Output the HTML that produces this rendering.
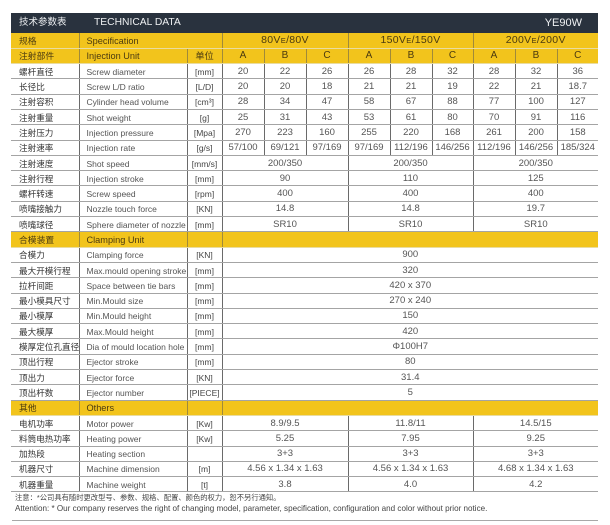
<!DOCTYPE html>
<html>
<head>
<meta charset="utf-8">
<style>
  html,body{margin:0;padding:0;background:#fff;}
  body{width:610px;height:525px;position:relative;overflow:hidden;font-family:"Liberation Sans","Noto Sans CJK SC",sans-serif;}
  .hdr{position:absolute;left:11px;top:13px;width:587px;height:20px;background:#29323e;color:#eef0f2;}
  .hdr .cn{position:absolute;left:8px;top:3px;font-size:9.5px;line-height:14px;font-family:"Liberation Sans","Noto Sans CJK SC",sans-serif;}
  .hdr .en{position:absolute;left:83px;top:3px;font-size:10.3px;line-height:14px;}
  .hdr .md{position:absolute;right:16px;top:3px;font-size:11px;line-height:14px;}
  table{position:absolute;left:11px;top:33px;width:587px;border-collapse:collapse;table-layout:fixed;}
  tr{height:15.31px;}
  td{padding:1px 0 0 0;border-bottom:1px solid #a4a4a4;border-left:1px solid #6a6a6a;text-align:center;vertical-align:middle;white-space:nowrap;overflow:hidden;font-size:9.5px;color:#555;line-height:12px;}
  td.c1{border-left:none;text-align:left;padding-left:8px;font-size:8.6px;color:#333;font-family:"Liberation Sans","Noto Sans CJK SC",sans-serif;}
  td.c2{text-align:left;padding-left:7px;font-size:8.5px;color:#555;}
  td.u{font-size:8.5px;color:#444;}
  tr.y td{background:#f2c41c;color:#4a3a10;font-size:9.2px;border-bottom:1px solid #e9dca0;border-left-color:#a08a3a;}
  tr.y td.c1{font-size:8.8px;color:#4a3a10;}
  tr.y td.g{font-size:10.5px;letter-spacing:0.3px;}
  tr.y td.abc{font-size:10px;}
  tr.y td small{font-size:0.72em;}
  .n1{position:absolute;left:15px;top:492px;font-size:7.3px;line-height:11px;color:#444;font-family:"Liberation Sans","Noto Sans CJK SC",sans-serif;}
  .n2{position:absolute;left:15px;top:503px;font-size:8.1px;line-height:11px;color:#444;}
  .bl{position:absolute;left:12px;top:520px;width:586px;height:1px;background:#a8a8a8;}
</style>
</head>
<body>
<div class="hdr"><span class="cn">技术参数表</span><span class="en">TECHNICAL DATA</span><span class="md">YE90W</span></div>
<table>
<colgroup>
<col style="width:68px"><col style="width:108px"><col style="width:35px">
<col style="width:42px"><col style="width:42px"><col style="width:42px">
<col style="width:42px"><col style="width:42px"><col style="width:41px">
<col style="width:42px"><col style="width:42px"><col style="width:41px">
</colgroup>
<tr class="y"><td class="c1">规格</td><td class="c2" colspan="2">Specification</td><td class="g" colspan="3">80V<small>E</small>/80V</td><td class="g" colspan="3">150V<small>E</small>/150V</td><td class="g" colspan="3">200V<small>E</small>/200V</td></tr>
<tr class="y"><td class="c1">注射部件</td><td class="c2">Injection Unit</td><td class="u" style="font-size:9.2px">单位</td><td class="abc">A</td><td class="abc">B</td><td class="abc">C</td><td class="abc">A</td><td class="abc">B</td><td class="abc">C</td><td class="abc">A</td><td class="abc">B</td><td class="abc">C</td></tr>
<tr><td class="c1">螺杆直径</td><td class="c2">Screw diameter</td><td class="u">[mm]</td><td>20</td><td>22</td><td>26</td><td>26</td><td>28</td><td>32</td><td>28</td><td>32</td><td>36</td></tr>
<tr><td class="c1">长径比</td><td class="c2">Screw L/D ratio</td><td class="u">[L/D]</td><td>20</td><td>20</td><td>18</td><td>21</td><td>21</td><td>19</td><td>22</td><td>21</td><td>18.7</td></tr>
<tr><td class="c1">注射容积</td><td class="c2">Cylinder head volume</td><td class="u">[cm³]</td><td>28</td><td>34</td><td>47</td><td>58</td><td>67</td><td>88</td><td>77</td><td>100</td><td>127</td></tr>
<tr><td class="c1">注射重量</td><td class="c2">Shot weight</td><td class="u">[g]</td><td>25</td><td>31</td><td>43</td><td>53</td><td>61</td><td>80</td><td>70</td><td>91</td><td>116</td></tr>
<tr><td class="c1">注射压力</td><td class="c2">Injection pressure</td><td class="u">[Mpa]</td><td>270</td><td>223</td><td>160</td><td>255</td><td>220</td><td>168</td><td>261</td><td>200</td><td>158</td></tr>
<tr><td class="c1">注射速率</td><td class="c2">Injection rate</td><td class="u">[g/s]</td><td>57/100</td><td>69/121</td><td>97/169</td><td>97/169</td><td>112/196</td><td>146/256</td><td>112/196</td><td>146/256</td><td>185/324</td></tr>
<tr><td class="c1">注射速度</td><td class="c2">Shot speed</td><td class="u">[mm/s]</td><td colspan="3">200/350</td><td colspan="3">200/350</td><td colspan="3">200/350</td></tr>
<tr><td class="c1">注射行程</td><td class="c2">Injection stroke</td><td class="u">[mm]</td><td colspan="3">90</td><td colspan="3">110</td><td colspan="3">125</td></tr>
<tr><td class="c1">螺杆转速</td><td class="c2">Screw speed</td><td class="u">[rpm]</td><td colspan="3">400</td><td colspan="3">400</td><td colspan="3">400</td></tr>
<tr><td class="c1">喷嘴接触力</td><td class="c2">Nozzle touch force</td><td class="u">[KN]</td><td colspan="3">14.8</td><td colspan="3">14.8</td><td colspan="3">19.7</td></tr>
<tr><td class="c1">喷嘴球径</td><td class="c2">Sphere diameter of nozzle</td><td class="u">[mm]</td><td colspan="3">SR10</td><td colspan="3">SR10</td><td colspan="3">SR10</td></tr>
<tr class="y"><td class="c1">合模装置</td><td class="c2">Clamping Unit</td><td class="u"></td><td colspan="9" style="border-left:1px solid #a08a3a"></td></tr>
<tr><td class="c1">合模力</td><td class="c2">Clamping force</td><td class="u">[KN]</td><td colspan="9">900</td></tr>
<tr><td class="c1">最大开模行程</td><td class="c2">Max.mould opening stroke</td><td class="u">[mm]</td><td colspan="9">320</td></tr>
<tr><td class="c1">拉杆间距</td><td class="c2">Space between tie bars</td><td class="u">[mm]</td><td colspan="9">420 x 370</td></tr>
<tr><td class="c1">最小模具尺寸</td><td class="c2">Min.Mould size</td><td class="u">[mm]</td><td colspan="9">270 x 240</td></tr>
<tr><td class="c1">最小模厚</td><td class="c2">Min.Mould height</td><td class="u">[mm]</td><td colspan="9">150</td></tr>
<tr><td class="c1">最大模厚</td><td class="c2">Max.Mould height</td><td class="u">[mm]</td><td colspan="9">420</td></tr>
<tr><td class="c1">模厚定位孔直径</td><td class="c2">Dia of mould location hole</td><td class="u">[mm]</td><td colspan="9">Φ100H7</td></tr>
<tr><td class="c1">顶出行程</td><td class="c2">Ejector stroke</td><td class="u">[mm]</td><td colspan="9">80</td></tr>
<tr><td class="c1">顶出力</td><td class="c2">Ejector force</td><td class="u">[KN]</td><td colspan="9">31.4</td></tr>
<tr><td class="c1">顶出杆数</td><td class="c2">Ejector number</td><td class="u">[PIECE]</td><td colspan="9">5</td></tr>
<tr class="y"><td class="c1">其他</td><td class="c2">Others</td><td class="u"></td><td colspan="9" style="border-left:1px solid #a08a3a"></td></tr>
<tr><td class="c1">电机功率</td><td class="c2">Motor power</td><td class="u">[Kw]</td><td colspan="3">8.9/9.5</td><td colspan="3">11.8/11</td><td colspan="3">14.5/15</td></tr>
<tr><td class="c1">料筒电热功率</td><td class="c2">Heating power</td><td class="u">[Kw]</td><td colspan="3">5.25</td><td colspan="3">7.95</td><td colspan="3">9.25</td></tr>
<tr><td class="c1">加热段</td><td class="c2">Heating section</td><td class="u"></td><td colspan="3">3+3</td><td colspan="3">3+3</td><td colspan="3">3+3</td></tr>
<tr><td class="c1">机器尺寸</td><td class="c2">Machine dimension</td><td class="u">[m]</td><td colspan="3">4.56 x 1.34 x 1.63</td><td colspan="3">4.56 x 1.34 x 1.63</td><td colspan="3">4.68 x 1.34 x 1.63</td></tr>
<tr><td class="c1">机器重量</td><td class="c2">Machine weight</td><td class="u">[t]</td><td colspan="3">3.8</td><td colspan="3">4.0</td><td colspan="3">4.2</td></tr>
</table>
<div class="n1">注意：*公司具有随时更改型号、参数、规格、配置、颜色的权力，恕不另行通知。</div>
<div class="n2">Attention: * Our company reserves the right of changing model, parameter, specification, configuration and color without prior notice.</div>
<div class="bl"></div>
</body>
</html>
